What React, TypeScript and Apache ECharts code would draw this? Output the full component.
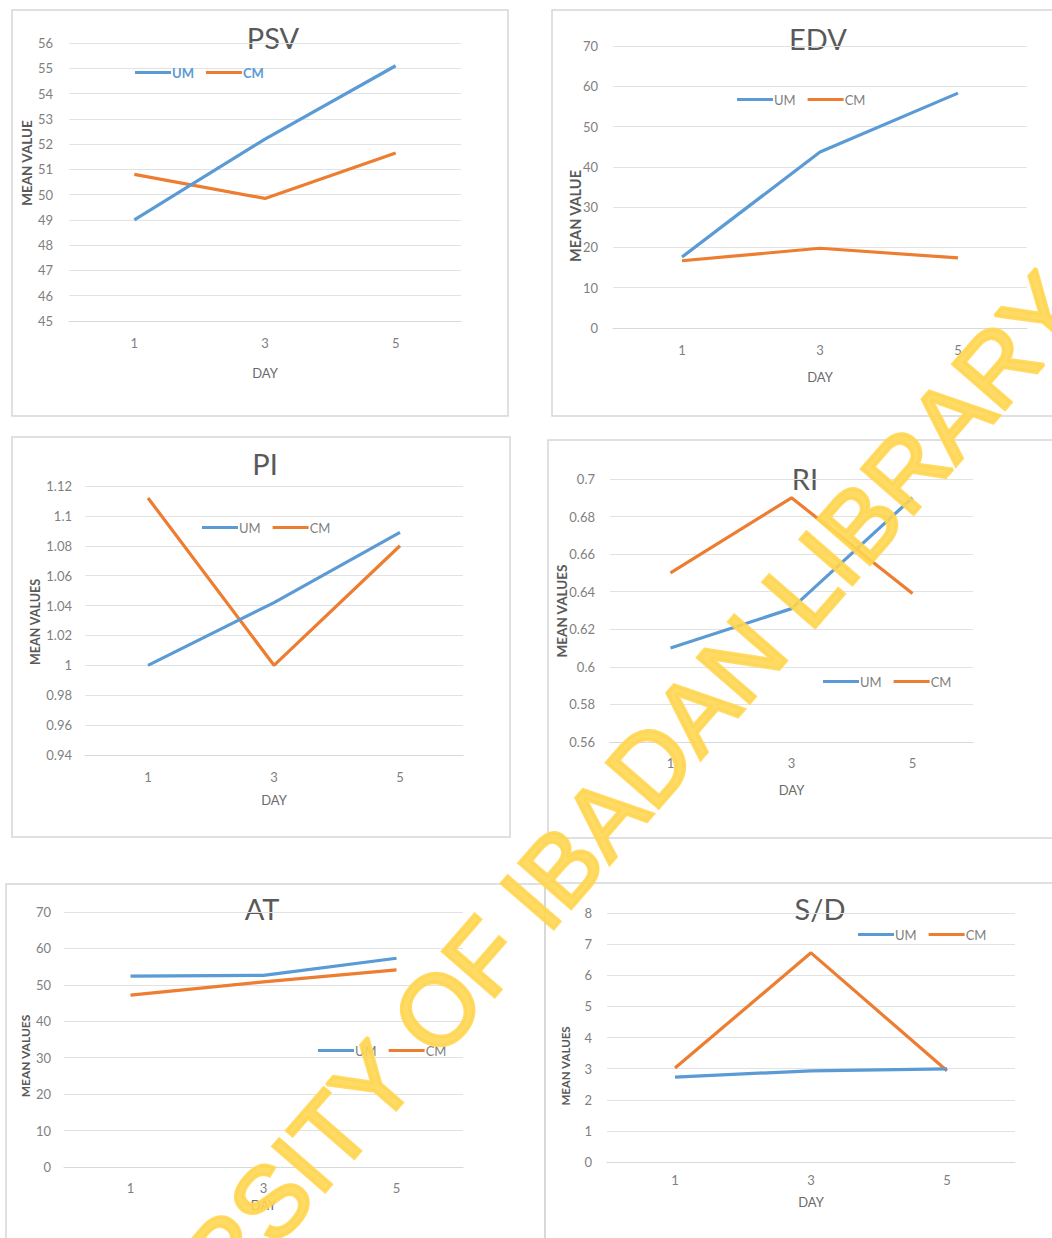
import React, { useEffect, useRef } from "react";
import * as echarts from "echarts";

const days = ["1", "3", "5"];
const psvUM = [49.0, 52.2, 55.1];
const psvCM = [50.8, 49.85, 51.65];
const edvUM = [17.6, 43.7, 58.3];
const edvCM = [16.7, 19.8, 17.4];
const piUM = [1.0, 1.042, 1.089];
const piCM = [1.112, 1.0, 1.08];
const riUM = [0.61, 0.631, 0.69];
const riCM = [0.65, 0.69, 0.639];
const atUM = [52.4, 52.6, 57.3];
const atCM = [47.2, 50.8, 54.1];
const sdUM = [2.73, 2.93, 2.99];
const sdCM = [3.02, 6.72, 2.93];

const BLUE = "#5B9BD5";
const ORANGE = "#ED7D31";
const FONT = "Lato, 'Open Sans', sans-serif";

type Panel = {
  title: string; tx: number; ty: number;
  um: number[]; cm: number[];
  min: number; max: number; interval: number;
  grid: { left: number; top: number; width: number; height: number };
  yMargin: number; xMargin: number; nameGap: number;
  yName: string; ynx: number; yny: number; ynSize: number;
  legend: { left: number; top: number; colored?: boolean };
  frame: [number, number, number, number];
};

const panels: Panel[] = [
  { title: "PSV", tx: 273, ty: 37, um: psvUM, cm: psvCM, min: 45, max: 56, interval: 1,
    grid: { left: 69, top: 43, width: 392, height: 278 }, yMargin: 16, xMargin: 22, nameGap: 52,
    yName: "MEAN VALUE", ynx: 27, yny: 163, ynSize: 13.5, legend: { left: 135, top: 66, colored: true },
    frame: [12, 10, 496, 406] },
  { title: "EDV", tx: 818, ty: 38, um: edvUM, cm: edvCM, min: 0, max: 70, interval: 10,
    grid: { left: 613, top: 46, width: 414, height: 282 }, yMargin: 15, xMargin: 22, nameGap: 49,
    yName: "MEAN VALUE", ynx: 575, yny: 216, ynSize: 14.5, legend: { left: 737, top: 93 },
    frame: [552, 10, 520, 406] },
  { title: "PI", tx: 265, ty: 463, um: piUM, cm: piCM, min: 0.94, max: 1.12, interval: 0.02,
    grid: { left: 85, top: 486, width: 378, height: 269 }, yMargin: 13, xMargin: 22, nameGap: 45,
    yName: "MEAN VALUES", ynx: 35, yny: 622, ynSize: 12.5, legend: { left: 202, top: 521 },
    frame: [12, 437, 498, 400] },
  { title: "RI", tx: 805, ty: 478, um: riUM, cm: riCM, min: 0.56, max: 0.7, interval: 0.02,
    grid: { left: 610, top: 479, width: 363, height: 263 }, yMargin: 15, xMargin: 21, nameGap: 48,
    yName: "MEAN VALUES", ynx: 562, yny: 611, ynSize: 13.5, legend: { left: 823, top: 675 },
    frame: [548, 440, 520, 398] },
  { title: "AT", tx: 262, ty: 908, um: atUM, cm: atCM, min: 0, max: 70, interval: 10,
    grid: { left: 64, top: 912, width: 399, height: 255 }, yMargin: 13, xMargin: 21, nameGap: 38,
    yName: "MEAN VALUES", ynx: 25, yny: 1056, ynSize: 12, legend: { left: 318, top: 1044 },
    frame: [6, 884, 539, 380] },
  { title: "S/D", tx: 820, ty: 908, um: sdUM, cm: sdCM, min: 0, max: 8, interval: 1,
    grid: { left: 607, top: 913, width: 408, height: 249 }, yMargin: 15, xMargin: 18, nameGap: 40,
    yName: "MEAN VALUES", ynx: 565, yny: 1066, ynSize: 11.5, legend: { left: 858, top: 928 },
    frame: [545, 883, 520, 380] },
];

export default function App() {
  const ref = useRef<HTMLDivElement>(null);
  useEffect(() => {
    if (!ref.current) return;
    const chart = echarts.init(ref.current, undefined, { renderer: "svg" });
    const grids: any[] = [];
    const xAxes: any[] = [];
    const yAxes: any[] = [];
    const series: any[] = [];
    const legends: any[] = [];
    const graphics: any[] = [];
    panels.forEach((p, i) => {
      grids.push({ ...p.grid, containLabel: false });
      xAxes.push({
        type: "category", gridIndex: i, data: days, boundaryGap: true,
        axisLine: { show: true, lineStyle: { color: "#d9d9d9" } },
        axisTick: { show: false },
        axisLabel: { color: "#7f7f7f", fontSize: 13, fontFamily: FONT, margin: p.xMargin, verticalAlign: "middle" },
        name: "DAY", nameLocation: "middle", nameGap: p.nameGap,
        nameTextStyle: { color: "#6b6b6b", fontSize: 13, fontFamily: FONT, verticalAlign: "middle" },
      });
      yAxes.push({
        type: "value", gridIndex: i, min: p.min, max: p.max, interval: p.interval,
        axisLine: { show: false }, axisTick: { show: false },
        axisLabel: { color: "#7f7f7f", fontSize: 13, fontFamily: FONT, margin: p.yMargin },
        splitLine: { show: true, lineStyle: { color: "#e2e2e2", width: 1 } },
      });
      series.push({
        type: "line", name: "UM", xAxisIndex: i, yAxisIndex: i, data: p.um,
        showSymbol: false, lineStyle: { color: BLUE, width: 3.2 }, itemStyle: { color: BLUE }, z: 3,
      });
      series.push({
        type: "line", name: "CM", xAxisIndex: i, yAxisIndex: i, data: p.cm,
        showSymbol: false, lineStyle: { color: ORANGE, width: 3.2 }, itemStyle: { color: ORANGE }, z: 2,
      });
      legends.push({
        left: p.legend.left, top: p.legend.top, padding: 0, itemGap: 12,
        icon: "rect", itemWidth: 36, itemHeight: 3,
        data: p.legend.colored
          ? [
              { name: "UM", textStyle: { color: BLUE, fontWeight: "bold" } },
              { name: "CM", textStyle: { color: BLUE, fontWeight: "bold" } },
            ]
          : ["UM", "CM"],
        textStyle: { color: "#7f7f7f", fontSize: 13, fontFamily: FONT, padding: [0, 0, 0, -4] },
      });
      graphics.push({
        type: "rect", z: -10, silent: true,
        shape: { x: p.frame[0], y: p.frame[1], width: p.frame[2], height: p.frame[3] },
        style: { fill: "none", stroke: "#d6d6d6", lineWidth: 1.5 },
      });
      graphics.push({
        type: "text", x: p.tx, y: p.ty, silent: true,
        style: { text: p.title, align: "center", verticalAlign: "middle", fill: "#595959",
          font: `normal 29px ${FONT}` },
      });
      graphics.push({
        type: "text", x: p.ynx, y: p.yny, rotation: Math.PI / 2, silent: true,
        style: { text: p.yName, align: "center", verticalAlign: "middle", fill: "#595959",
          font: `bold ${p.ynSize}px ${FONT}` },
      });
    });
    graphics.push({
      type: "text", x: 532, y: 900, rotation: (49 * Math.PI) / 180, z: 100, silent: true,
      style: {
        text: "UNIVERSITY OF IBADAN LIBRARY", align: "center", verticalAlign: "middle",
        fill: "#FFD54F", stroke: "#FFD54F", lineWidth: 3.5, opacity: 0.88,
        font: `normal 100px 'Liberation Sans', Arial, sans-serif`,
      },
    });
    chart.setOption({
      animation: false,
      backgroundColor: "#ffffff",
      grid: grids, xAxis: xAxes, yAxis: yAxes, series, legend: legends,
      graphic: { elements: graphics },
    });
    return () => chart.dispose();
  }, []);
  return (
    <div
      ref={ref}
      style={{ position: "absolute", left: 0, top: 0, width: 1052, height: 1238 }}
    />
  );
}
